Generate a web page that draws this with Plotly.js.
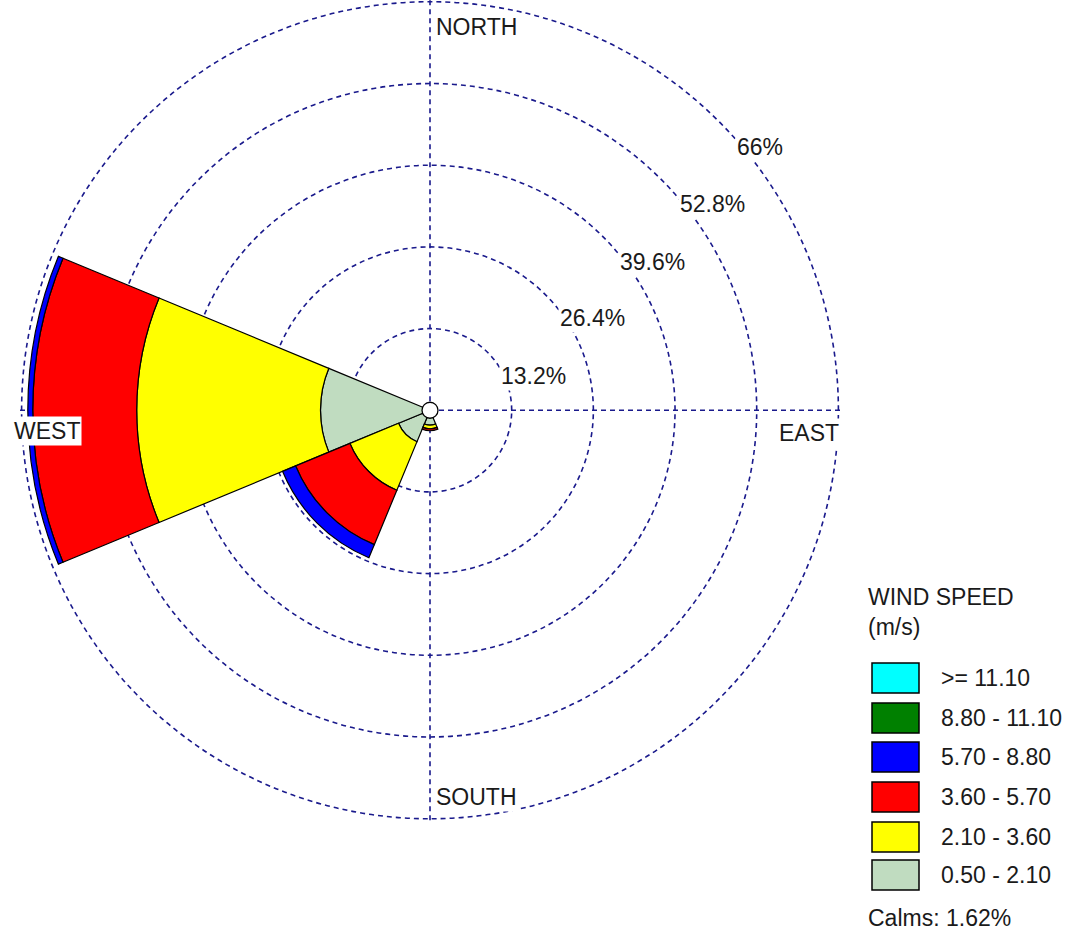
<!DOCTYPE html>
<html>
<head>
<meta charset="utf-8">
<script src="https://cdn.plot.ly/plotly-3.0.1.min.js"></script>
<style>html,body{margin:0;padding:0;background:#fff;}#chart{width:1072px;height:935px;}</style>
</head>
<body>
<div id="chart"></div>
<script>
// ---- data ----
const directions = [0, 45, 90, 135, 180, 225, 270, 315];   // degrees (N, NE, E, SE, S, SW, W, NW)
const speedBins = ['0.50 - 2.10', '2.10 - 3.60', '3.60 - 5.70', '5.70 - 8.80', '8.80 - 11.10', '>= 11.10'];
const binColors = ['#C0DCC0', '#FFFF00', '#FF0000', '#0000FF', '#008000', '#00FFFF'];
const freq_050_210  = [0, 0, 0, 0, 2.4, 5.5, 17.7, 0];
const freq_210_360  = [0, 0, 0, 0, 0.6, 8.5, 29.7, 0];
const freq_360_570  = [0, 0, 0, 0, 0.3, 9.5, 16.8, 0];
const freq_570_880  = [0, 0, 0, 0, 0, 2.3, 0.8, 0];
const freq_880_1110 = [0, 0, 0, 0, 0, 0, 0, 0];
const freq_ge_1110  = [0, 0, 0, 0, 0, 0, 0, 0];
const calmsPct = 1.62;
const radialTicks = [13.2, 26.4, 39.6, 52.8, 66];
const compassLabels = ['NORTH', 'EAST', 'SOUTH', 'WEST'];
const legendTitle = 'WIND SPEED<br>(m/s)';

// ---- figure ----
const W = 1072, H = 935;
const X = px => px / W, Y = py => 1 - py / H;
const FONT = 'Liberation Sans, Arial, sans-serif';
const TXT = '#1a1a1a';
const FS = 23;
const series = [freq_050_210, freq_210_360, freq_360_570, freq_570_880, freq_880_1110, freq_ge_1110];

const traces = series.map((vals, i) => {
  const th = [], rr = [];
  vals.forEach((v, k) => { if (v > 0) { th.push(directions[k]); rr.push(v); } });
  return {
    type: 'barpolar', name: speedBins[i], theta: th, r: rr, width: 45,
    marker: {color: binColors[i], line: {color: '#000', width: 1.2}},
    showlegend: false, hoverinfo: 'skip'
  };
});
traces.push({
  type: 'scatterpolar', mode: 'markers', r: [0], theta: [0], name: 'Calms',
  marker: {size: 16, color: '#fff', line: {color: '#000', width: 1.3}},
  showlegend: false, hoverinfo: 'skip', cliponaxis: false
});

const gridColor = '#1a1a8c';
const annotations = [];
// compass labels
const compassPos = [[434, 27], [777, 433], [434, 797], [12, 431]];
compassLabels.forEach((t, i) => {
  annotations.push({
    xref: 'paper', yref: 'paper', x: X(compassPos[i][0]), y: Y(compassPos[i][1]),
    xanchor: 'left', yanchor: 'middle', text: t, showarrow: false,
    font: {family: FONT, size: FS, color: TXT},
    bgcolor: '#fff', borderpad: 1
  });
});
// radial (percentage) labels
const radialLabelPos = [[533, 376], [592, 318], [652, 262], [712, 204], [760, 147]];
radialTicks.forEach((v, i) => {
  annotations.push({
    xref: 'paper', yref: 'paper', x: X(radialLabelPos[i][0]), y: Y(radialLabelPos[i][1]),
    xanchor: 'center', yanchor: 'middle', text: v + '%', showarrow: false,
    font: {family: FONT, size: FS, color: TXT}, bgcolor: '#fff', borderpad: 1
  });
});
// legend
const shapes = [];
annotations.push({xref: 'paper', yref: 'paper', x: X(866), y: Y(582), xanchor: 'left', yanchor: 'top',
  text: legendTitle, align: 'left', showarrow: false, font: {family: FONT, size: FS, color: TXT}});
const legendOrder = [5, 4, 3, 2, 1, 0];
const rowTop = [663, 703, 742, 782, 822, 860];
legendOrder.forEach((b, j) => {
  const y0 = rowTop[j], y1 = rowTop[j] + 30;
  shapes.push({type: 'rect', xref: 'paper', yref: 'paper', x0: X(872), x1: X(919), y0: Y(y1), y1: Y(y0),
    fillcolor: binColors[b], line: {color: '#000', width: 1.5}});
  annotations.push({xref: 'paper', yref: 'paper', x: X(939), y: Y((y0 + y1) / 2), xanchor: 'left', yanchor: 'middle',
    text: speedBins[b], showarrow: false, font: {family: FONT, size: FS, color: TXT}});
});
annotations.push({xref: 'paper', yref: 'paper', x: X(866), y: Y(918), xanchor: 'left', yanchor: 'middle',
  text: 'Calms: ' + calmsPct.toFixed(2) + '%', showarrow: false, font: {family: FONT, size: FS, color: TXT}});

const layout = {
  width: W, height: H, margin: {l: 0, r: 0, t: 0, b: 0},
  paper_bgcolor: '#fff', showlegend: false,
  font: {family: FONT, size: FS, color: TXT},
  polar: {
    domain: {x: [X(19.5), X(840.5)], y: [114.5 / H, 1]},
    bgcolor: 'rgba(0,0,0,0)',
    barmode: 'stack',
    radialaxis: {
      range: [0, 66.3], tickvals: radialTicks, showticklabels: false,
      angle: 45, showline: false, ticks: '',
      showgrid: true, gridcolor: gridColor, gridwidth: 1.6, griddash: '5px,4px'
    },
    angularaxis: {
      rotation: 90, direction: 'clockwise', tickmode: 'array', tickvals: [0, 90, 180, 270],
      showticklabels: false, ticks: '', showline: false,
      showgrid: true, gridcolor: gridColor, gridwidth: 1.6, griddash: '5px,4px'
    }
  },
  shapes: shapes,
  annotations: annotations
};

Plotly.newPlot('chart', traces, layout, {displayModeBar: false, staticPlot: true});
</script>
</body>
</html>
